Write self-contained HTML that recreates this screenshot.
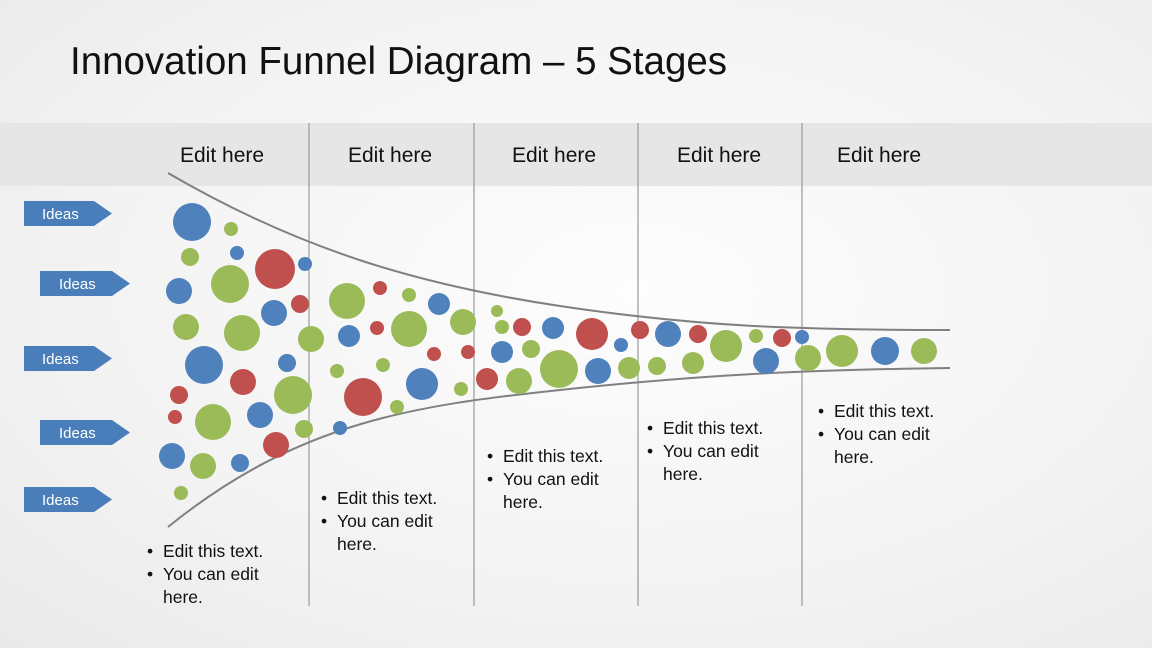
<!DOCTYPE html>
<html><head><meta charset="utf-8"><style>
body{margin:0;width:1152px;height:648px;overflow:hidden;background:radial-gradient(ellipse at 55% 45%,#fdfdfd 0%,#f3f3f3 60%,#e9e9e9 100%);font-family:"Liberation Sans",sans-serif;position:relative}
.t{position:absolute;left:70px;top:40px;font-size:38.5px;color:#111}
.band{position:absolute;left:0;top:123px;width:1152px;height:63px;background:#e6e6e6}
.h{position:absolute;top:144px;font-size:21px;color:#111}
.b{position:absolute;font-size:17.5px;line-height:23px;color:#111}
.b div{position:relative;padding-left:16px}
.b div.bl::before{content:"•";position:absolute;left:0}
</style></head><body>
<div class="band"></div>
<div class="t">Innovation Funnel Diagram – 5 Stages</div>
<div class="h" style="left:180px">Edit here</div>
<div class="h" style="left:348px">Edit here</div>
<div class="h" style="left:512px">Edit here</div>
<div class="h" style="left:677px">Edit here</div>
<div class="h" style="left:837px">Edit here</div>
<svg width="1152" height="648" style="position:absolute;left:0;top:0">
<g stroke="#9a9a9a" stroke-width="1.2">
<line x1="309" y1="123" x2="309" y2="606"/><line x1="474" y1="123" x2="474" y2="606"/><line x1="638" y1="123" x2="638" y2="606"/><line x1="802" y1="123" x2="802" y2="606"/></g>
<g fill="none" stroke="#808080" stroke-width="2">
<path d="M168 173 C300 250 420 285 560 306 S800 330 950 330"/>
<path d="M168 527 C300 420 420 405 560 390 S800 370 950 368"/></g>
<g fill="#4a7ebb">
<path d="M24 201h70l18 12.5l-18 12.5h-70z"/>
<path d="M40 271h72l18 12.5l-18 12.5h-72z"/>
<path d="M24 346h70l18 12.5l-18 12.5h-70z"/>
<path d="M40 420h72l18 12.5l-18 12.5h-72z"/>
<path d="M24 487h70l18 12.5l-18 12.5h-70z"/></g>
<g fill="#fff" font-size="15" font-family="Liberation Sans,sans-serif">
<text x="42" y="219">Ideas</text><text x="59" y="289">Ideas</text><text x="42" y="364">Ideas</text><text x="59" y="438">Ideas</text><text x="42" y="505">Ideas</text></g>
<g fill="#4f81bd">
<circle cx="192" cy="222" r="19"/><circle cx="237" cy="253" r="7"/><circle cx="305" cy="264" r="7"/><circle cx="179" cy="291" r="13"/><circle cx="274" cy="313" r="13"/><circle cx="204" cy="365" r="19"/><circle cx="287" cy="363" r="9"/><circle cx="260" cy="415" r="13"/><circle cx="172" cy="456" r="13"/><circle cx="240" cy="463" r="9"/><circle cx="439" cy="304" r="11"/><circle cx="349" cy="336" r="11"/><circle cx="422" cy="384" r="16"/><circle cx="340" cy="428" r="7"/><circle cx="553" cy="328" r="11"/><circle cx="621" cy="345" r="7"/><circle cx="502" cy="352" r="11"/><circle cx="598" cy="371" r="13"/><circle cx="668" cy="334" r="13"/><circle cx="802" cy="337" r="7"/><circle cx="766" cy="361" r="13"/><circle cx="885" cy="351" r="14"/></g>
<g fill="#c0504d">
<circle cx="275" cy="269" r="20"/><circle cx="300" cy="304" r="9"/><circle cx="243" cy="382" r="13"/><circle cx="179" cy="395" r="9"/><circle cx="175" cy="417" r="7"/><circle cx="276" cy="445" r="13"/><circle cx="380" cy="288" r="7"/><circle cx="377" cy="328" r="7"/><circle cx="434" cy="354" r="7"/><circle cx="468" cy="352" r="7"/><circle cx="363" cy="397" r="19"/><circle cx="522" cy="327" r="9"/><circle cx="592" cy="334" r="16"/><circle cx="487" cy="379" r="11"/><circle cx="640" cy="330" r="9"/><circle cx="698" cy="334" r="9"/><circle cx="782" cy="338" r="9"/></g>
<g fill="#9bbb59">
<circle cx="231" cy="229" r="7"/><circle cx="190" cy="257" r="9"/><circle cx="230" cy="284" r="19"/><circle cx="186" cy="327" r="13"/><circle cx="242" cy="333" r="18"/><circle cx="311" cy="339" r="13"/><circle cx="293" cy="395" r="19"/><circle cx="213" cy="422" r="18"/><circle cx="304" cy="429" r="9"/><circle cx="203" cy="466" r="13"/><circle cx="181" cy="493" r="7"/><circle cx="347" cy="301" r="18"/><circle cx="409" cy="295" r="7"/><circle cx="409" cy="329" r="18"/><circle cx="463" cy="322" r="13"/><circle cx="337" cy="371" r="7"/><circle cx="383" cy="365" r="7"/><circle cx="397" cy="407" r="7"/><circle cx="461" cy="389" r="7"/><circle cx="497" cy="311" r="6"/><circle cx="502" cy="327" r="7"/><circle cx="531" cy="349" r="9"/><circle cx="519" cy="381" r="13"/><circle cx="559" cy="369" r="19"/><circle cx="629" cy="368" r="11"/><circle cx="657" cy="366" r="9"/><circle cx="693" cy="363" r="11"/><circle cx="726" cy="346" r="16"/><circle cx="756" cy="336" r="7"/><circle cx="808" cy="358" r="13"/><circle cx="842" cy="351" r="16"/><circle cx="924" cy="351" r="13"/></g>
</svg>
<div class="b" style="left:147px;top:540px;width:150px"><div class="bl">Edit this text.</div><div class="bl">You can edit</div><div>here.</div></div>
<div class="b" style="left:321px;top:487px;width:150px"><div class="bl">Edit this text.</div><div class="bl">You can edit</div><div>here.</div></div>
<div class="b" style="left:487px;top:445px;width:150px"><div class="bl">Edit this text.</div><div class="bl">You can edit</div><div>here.</div></div>
<div class="b" style="left:647px;top:417px;width:150px"><div class="bl">Edit this text.</div><div class="bl">You can edit</div><div>here.</div></div>
<div class="b" style="left:818px;top:400px;width:150px"><div class="bl">Edit this text.</div><div class="bl">You can edit</div><div>here.</div></div>
</body></html>
